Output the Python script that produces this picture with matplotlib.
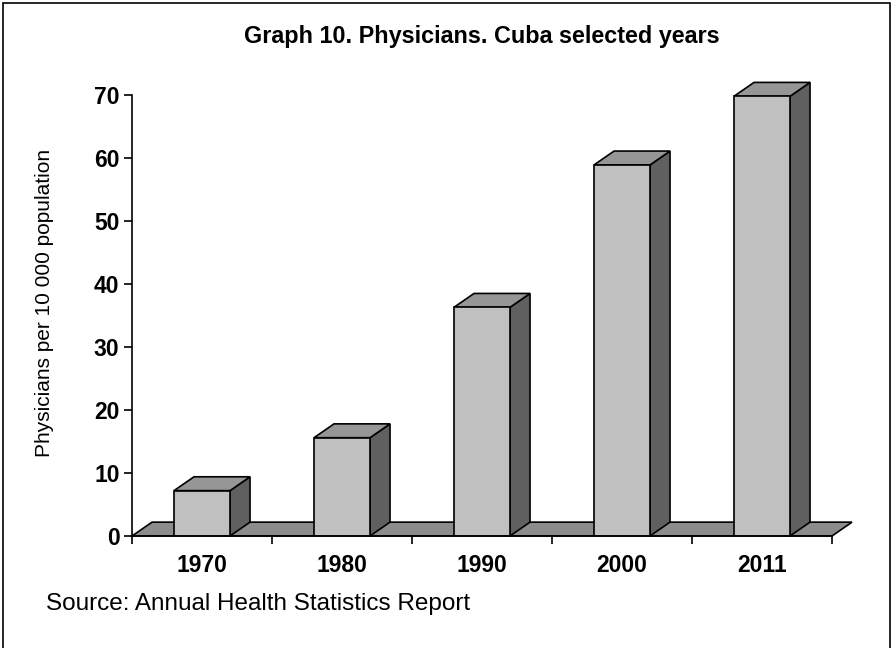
import matplotlib.pyplot as plt
from matplotlib.patches import Polygon, Rectangle

plt.rcParams['font.family'] = ['Liberation Sans', 'DejaVu Sans']

years = ['1970', '1980', '1990', '2000', '2011']
physicians = [7.2, 15.6, 36.3, 58.9, 69.8]

# 3d look: depth offset in data units
dx = 0.143
dy = 2.2
width = 0.4

fig = plt.figure(figsize=(8.91, 6.48), dpi=100)
ax = fig.add_axes([132 / 891, 112 / 648, 700 / 891, 441 / 648])
ax.set_xlim(-0.5, len(years) - 0.5)
ax.set_ylim(0, 70)

# floor
ax.add_patch(Polygon([(-0.5, 0), (len(years) - 0.5, 0),
                      (len(years) - 0.5 + dx, dy), (-0.5 + dx, dy)],
                     closed=True, facecolor='#8c8c8c', edgecolor='black',
                     linewidth=1.2, zorder=1, clip_on=False))

for i, v in enumerate(physicians):
    x0 = i - width / 2
    x1 = i + width / 2
    # side face
    ax.add_patch(Polygon([(x1, 0), (x1 + dx, dy), (x1 + dx, v + dy), (x1, v)],
                         closed=True, facecolor='#606060', edgecolor='black',
                         linewidth=1.2, zorder=2, clip_on=False))
    # top face
    ax.add_patch(Polygon([(x0, v), (x1, v), (x1 + dx, v + dy), (x0 + dx, v + dy)],
                         closed=True, facecolor='#969696', edgecolor='black',
                         linewidth=1.2, zorder=2, clip_on=False))

ax.bar(range(len(years)), physicians, width=width, color='#c0c0c0',
       edgecolor='black', linewidth=1.2, zorder=3)

ax.spines['top'].set_visible(False)
ax.spines['right'].set_visible(False)
ax.spines['left'].set_linewidth(1.2)
ax.spines['bottom'].set_linewidth(1.2)
ax.spines['bottom'].set_zorder(4)

ax.set_yticks(range(0, 71, 10))
ax.set_yticklabels([str(t) for t in range(0, 71, 10)], fontsize=16.5, fontweight='bold')
ax.tick_params(axis='y', direction='out', length=6, width=1.2, pad=3)

ax.set_xticks([i - 0.5 for i in range(len(years) + 1)], minor=False)
ax.set_xticklabels([])
ax.tick_params(axis='x', direction='out', length=6, width=1.2)
ax.set_xticks(range(len(years)), minor=True)
ax.set_xticklabels(years, minor=True, fontsize=16.5, fontweight='bold')
ax.tick_params(axis='x', which='minor', length=0, pad=13)

fig.text(45 / 891, 1 - 303 / 648, 'Physicians per 10 000 population',
         rotation=90, ha='center', va='center', fontsize=15)

fig.text(482 / 891, 1 - 36 / 648, 'Graph 10. Physicians. Cuba selected years',
         ha='center', va='center', fontsize=16.8, fontweight='bold')
fig.text(46 / 891, 1 - 604 / 648, 'Source: Annual Health Statistics Report',
         ha='left', va='center', fontsize=17.5)

# chart frame
fig.patches.append(Rectangle((2.5 / 891, -0.01), 887 / 891, 1.01 - 2.5 / 648,
                             transform=fig.transFigure, fill=False,
                             edgecolor='black', linewidth=1.2))

fig.savefig('out.png', dpi=100)
